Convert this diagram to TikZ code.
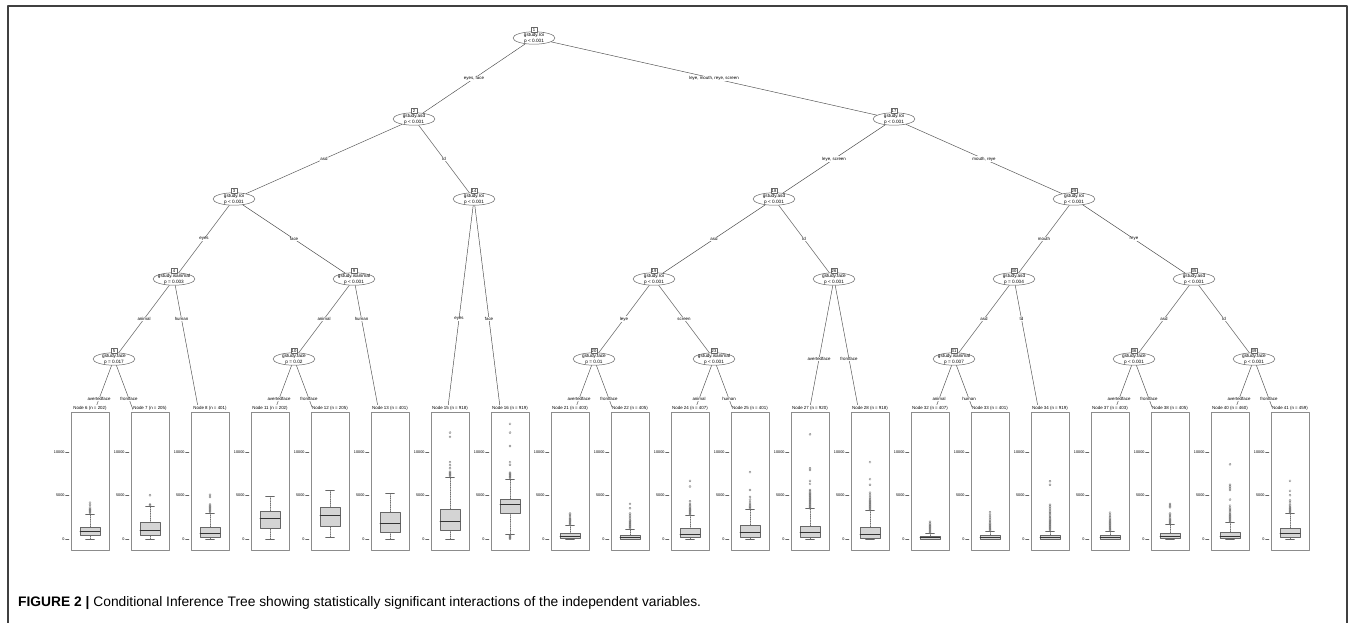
\documentclass[tikz,border=0pt]{standalone}
\usepackage{fontspec}
\setmainfont{Liberation Sans}
\usetikzlibrary{shapes.geometric}
\usetikzlibrary{positioning}

\tikzset{
  inner/.style 2 args={ellipse, draw=black!60, fill=white, line width=0.5pt,
    minimum width=42, minimum height=12.4, inner sep=0, label={[itext]center:#1\\#2}},
  itext/.style={align=center, inner sep=0, font=\fontsize{4.7}{5.6}\selectfont},
  numbox/.style={draw=black!60, fill=white, line width=0.4pt, inner sep=0.5,
    minimum size=5.4, font=\fontsize{4.2}{4.2}\selectfont},
  edge/.style={draw=black!70, line width=0.45pt},
  elab/.style={fill=white, inner sep=0.6, font=\fontsize{4.4}{5}\selectfont},
  leafbox/.style={draw=black!45, fill=white, line width=0.6pt, minimum width=38,
    minimum height=138, inner sep=0},
  leaflab/.style={fill=white, inner sep=0.3, minimum height=7, font=\fontsize{4.4}{5}\selectfont},
  tick/.style={draw=black!60, line width=0.35pt},
  ticklab/.style={inner sep=0.8, font=\fontsize{3.8}{4}\selectfont},
  whisk/.style={draw=black!55, line width=0.35pt, dash pattern=on 1pt off 0.8pt},
  capline/.style={draw=black!60, line width=0.4pt},
  bxfill/.style={draw=black!60, fill=black!17, line width=0.4pt},
  median/.style={draw=black!80, line width=0.9pt},
  outl/.style={draw=black!55, line width=0.3pt},
  frame/.style={draw=black!75, line width=1.2pt},
  declare function={ybp(\q)=538.7-8.7*\q;}
}

% one terminal panel: name, x, title, low, q1, median, q3, high (values in 1000)
\newcommand{\leafpanel}[8]{%
  \node[leafbox] (#1) at (#2,481) {};
  \node[leaflab] (#1l) at (#2,408.5) {#3};
  \draw[tick] ({#2-21},{ybp(0)}) -- ({#2-24.5},{ybp(0)}) node[ticklab,left] (#1a) {0};
  \draw[tick] ({#2-21},{ybp(5)}) -- ({#2-24.5},{ybp(5)}) node[ticklab,left] (#1b) {5000};
  \draw[tick] ({#2-21},{ybp(10)}) -- ({#2-24.5},{ybp(10)}) node[ticklab,left] (#1c) {10000};
  \draw[whisk] (#2,{ybp(#4)}) -- (#2,{ybp(#5)});
  \draw[whisk] (#2,{ybp(#7)}) -- (#2,{ybp(#8)});
  \draw[capline] ({#2-4.5},{ybp(#4)}) -- ({#2+4.5},{ybp(#4)});
  \draw[capline] ({#2-4.5},{ybp(#8)}) -- ({#2+4.5},{ybp(#8)});
  \draw[bxfill] ({#2-10},{ybp(#5)}) rectangle ({#2+10},{ybp(#7)});
  \draw[median] ({#2-10},{ybp(#6)}) -- ({#2+10},{ybp(#6)});
}
\newcommand{\outliers}[2]{%
  \foreach \ov in {#2} \draw[outl] (#1,{ybp(\ov)}) circle[radius=1.1pt];
}

\begin{document}
\begin{tikzpicture}[line cap=round, line join=round, x=1pt, y=-1pt]
\useasboundingbox (0,0) rectangle (1357,623);
\fill[white] (0,0) rectangle (1357,623);
\draw[frame] (8,624) |- (1347,6) -- (1347,624);
\node[anchor=base west, inner sep=0, font=\fontsize{13.8}{15}\selectfont] (cap) at (18,606.5)
  {\textbf{FIGURE 2 |} Conditional Inference Tree showing statistically significant interactions of the independent variables.};

% inner nodes
\node[inner={gstudy.roi}{p < 0.001}] (n1) at (534,38) {};
\node[inner={gstudy.asd}{p < 0.001}] (n2) at (414,119) {};
\node[inner={gstudy.roi}{p < 0.001}] (n17) at (894,119) {};
\node[inner={gstudy.roi}{p < 0.001}] (n3) at (234,199) {};
\node[inner={gstudy.roi}{p < 0.001}] (n14) at (474,199) {};
\node[inner={gstudy.asd}{p < 0.001}] (n18) at (774,199) {};
\node[inner={gstudy.roi}{p < 0.001}] (n29) at (1074,199) {};
\node[inner={gstudy.isanimal}{p = 0.003}] (n4) at (174,279) {};
\node[inner={gstudy.isanimal}{p < 0.001}] (n9) at (354,279) {};
\node[inner={gstudy.roi}{p < 0.001}] (n19) at (654,279) {};
\node[inner={gstudy.face}{p < 0.001}] (n26) at (834,279) {};
\node[inner={gstudy.asd}{p = 0.004}] (n30) at (1014,279) {};
\node[inner={gstudy.asd}{p < 0.001}] (n35) at (1194,279) {};
\node[inner={gstudy.face}{p = 0.017}] (n5) at (114,359) {};
\node[inner={gstudy.face}{p = 0.02}] (n10) at (294,359) {};
\node[inner={gstudy.face}{p = 0.01}] (n20) at (594,359) {};
\node[inner={gstudy.isanimal}{p < 0.001}] (n23) at (714,359) {};
\node[inner={gstudy.isanimal}{p = 0.007}] (n31) at (954,359) {};
\node[inner={gstudy.face}{p < 0.001}] (n36) at (1134,359) {};
\node[inner={gstudy.face}{p < 0.001}] (n39) at (1254,359) {};

\node[numbox, above=-1.2pt of n1] (b1) {1};
\node[numbox, above=-1.2pt of n2] (b2) {2};
\node[numbox, above=-1.2pt of n17] (b17) {17};
\node[numbox, above=-1.2pt of n3] (b3) {3};
\node[numbox, above=-1.2pt of n14] (b14) {14};
\node[numbox, above=-1.2pt of n18] (b18) {18};
\node[numbox, above=-1.2pt of n29] (b29) {29};
\node[numbox, above=-1.2pt of n4] (b4) {4};
\node[numbox, above=-1.2pt of n9] (b9) {9};
\node[numbox, above=-1.2pt of n19] (b19) {19};
\node[numbox, above=-1.2pt of n26] (b26) {26};
\node[numbox, above=-1.2pt of n30] (b30) {30};
\node[numbox, above=-1.2pt of n35] (b35) {35};
\node[numbox, above=-1.2pt of n5] (b5) {5};
\node[numbox, above=-1.2pt of n10] (b10) {10};
\node[numbox, above=-1.2pt of n20] (b20) {20};
\node[numbox, above=-1.2pt of n23] (b23) {23};
\node[numbox, above=-1.2pt of n31] (b31) {31};
\node[numbox, above=-1.2pt of n36] (b36) {36};
\node[numbox, above=-1.2pt of n39] (b39) {39};

% terminal nodes
\coordinate (l6) at (84,439);
\coordinate (l7) at (144,439);
\coordinate (l8) at (204,439);
\coordinate (l11) at (264,439);
\coordinate (l12) at (324,439);
\coordinate (l13) at (384,439);
\coordinate (l15) at (444,439);
\coordinate (l16) at (504,439);
\coordinate (l21) at (564,439);
\coordinate (l22) at (624,439);
\coordinate (l24) at (684,439);
\coordinate (l25) at (744,439);
\coordinate (l27) at (804,439);
\coordinate (l28) at (864,439);
\coordinate (l32) at (924,439);
\coordinate (l33) at (984,439);
\coordinate (l34) at (1044,439);
\coordinate (l37) at (1104,439);
\coordinate (l38) at (1164,439);
\coordinate (l40) at (1224,439);
\coordinate (l41) at (1284,439);

% edges
\draw[edge] (n1) -- (n2);
\draw[edge] (n1) -- (n17);
\draw[edge] (n2) -- (n3);
\draw[edge] (n2) -- (n14);
\draw[edge] (n17) -- (n18);
\draw[edge] (n17) -- (n29);
\draw[edge] (n3) -- (n4);
\draw[edge] (n3) -- (n9);
\draw[edge] (n14) -- (l15);
\draw[edge] (n14) -- (l16);
\draw[edge] (n18) -- (n19);
\draw[edge] (n18) -- (n26);
\draw[edge] (n29) -- (n30);
\draw[edge] (n29) -- (n35);
\draw[edge] (n4) -- (n5);
\draw[edge] (n4) -- (l8);
\draw[edge] (n9) -- (n10);
\draw[edge] (n9) -- (l13);
\draw[edge] (n19) -- (n20);
\draw[edge] (n19) -- (n23);
\draw[edge] (n26) -- (l27);
\draw[edge] (n26) -- (l28);
\draw[edge] (n30) -- (n31);
\draw[edge] (n30) -- (l34);
\draw[edge] (n35) -- (n36);
\draw[edge] (n35) -- (n39);
\draw[edge] (n5) -- (l6);
\draw[edge] (n5) -- (l7);
\draw[edge] (n10) -- (l11);
\draw[edge] (n10) -- (l12);
\draw[edge] (n20) -- (l21);
\draw[edge] (n20) -- (l22);
\draw[edge] (n23) -- (l24);
\draw[edge] (n23) -- (l25);
\draw[edge] (n31) -- (l32);
\draw[edge] (n31) -- (l33);
\draw[edge] (n36) -- (l37);
\draw[edge] (n36) -- (l38);
\draw[edge] (n39) -- (l40);
\draw[edge] (n39) -- (l41);

% split labels
\node[elab] (e2) at (474,78.5) {eyes, face};
\node[elab] (e17) at (714,78.5) {leye, mouth, reye, screen};
\node[elab] (e3) at (324,159) {asd};
\node[elab] (e14) at (444,159) {td};
\node[elab] (e18) at (834,159) {leye, screen};
\node[elab] (e29) at (984,159) {mouth, reye};
\node[elab] (e4) at (204,239) {eyes};
\node[elab] (e9) at (294,239) {face};
\node[elab] (e15) at (459,319) {eyes};
\node[elab] (e16) at (489,319) {face};
\node[elab] (e19) at (714,239) {asd};
\node[elab] (e26) at (804,239) {td};
\node[elab] (e30) at (1044,239) {mouth};
\node[elab] (e35) at (1134,239) {reye};
\node[elab] (e5) at (144,319) {animal};
\node[elab] (e8) at (181.5,319) {human};
\node[elab] (e10) at (324,319) {animal};
\node[elab] (e13) at (361.5,319) {human};
\node[elab] (e20) at (624,319) {leye};
\node[elab] (e23) at (684,319) {screen};
\node[elab] (e27) at (819,359) {avertedface};
\node[elab] (e28) at (849,359) {frontface};
\node[elab] (e31) at (984,319) {asd};
\node[elab] (e34) at (1021.5,319) {td};
\node[elab] (e36) at (1164,319) {asd};
\node[elab] (e39) at (1224,319) {td};
\node[elab] (e6) at (99,399) {avertedface};
\node[elab] (e7) at (129,399) {frontface};
\node[elab] (e11) at (279,399) {avertedface};
\node[elab] (e12) at (309,399) {frontface};
\node[elab] (e21) at (579,399) {avertedface};
\node[elab] (e22) at (609,399) {frontface};
\node[elab] (e24) at (699,399) {animal};
\node[elab] (e25) at (729,399) {human};
\node[elab] (e32) at (939,399) {animal};
\node[elab] (e33) at (969,399) {human};
\node[elab] (e37) at (1119,399) {avertedface};
\node[elab] (e38) at (1149,399) {frontface};
\node[elab] (e40) at (1239,399) {avertedface};
\node[elab] (e41) at (1269,399) {frontface};

% boxplot panels
\leafpanel{p6}{90}{Node 6 (n = 202)}{0}{0.39}{0.88}{1.34}{2.8}
\outliers{90}{2.95,3.05,3.15,3.25,3.35,3.45,3.6,3.9,4.15}
\leafpanel{p7}{150}{Node 7 (n = 205)}{0}{0.39}{1.0}{1.84}{3.72}
\outliers{150}{3.85,3.95,5.0}
\leafpanel{p8}{210}{Node 8 (n = 401)}{0}{0.2}{0.58}{1.34}{2.92}
\outliers{210}{3.1,3.2,3.3,3.4,3.5,3.6,3.7,3.8,3.95,4.8,5.05}
\leafpanel{p11}{270}{Node 11 (n = 202)}{0}{1.19}{2.34}{3.15}{4.87}
\leafpanel{p12}{330}{Node 12 (n = 205)}{0.2}{1.46}{2.69}{3.6}{5.56}
\leafpanel{p13}{390}{Node 13 (n = 401)}{0}{0.77}{1.77}{3.1}{5.2}
\leafpanel{p15}{450}{Node 15 (n = 918)}{0}{0.96}{2.03}{3.38}{7.1}
\outliers{450}{7.2,7.3,7.4,7.5,7.6,7.7,8.1,8.45,8.8,11.7,12.2}
\leafpanel{p16}{510}{Node 16 (n = 919)}{0.5}{2.92}{3.95}{4.56}{6.83}
\outliers{510}{0,0.08,0.16,0.24,0.32,0.4,7.0,7.1,7.2,7.3,7.4,7.5,7.6,8.5,8.8,10.65,12.2,13.2}
\leafpanel{p21}{570}{Node 21 (n = 403)}{0}{0.02}{0.23}{0.58}{1.54}
\outliers{570}{1.6,1.7,1.8,1.9,2.0,2.1,2.2,2.3,2.4,2.6,2.75,2.9}
\leafpanel{p22}{630}{Node 22 (n = 405)}{0}{0}{0.1}{0.46}{1.12}
\outliers{630}{1.2,1.3,1.4,1.5,1.6,1.7,1.8,1.9,2.0,2.1,2.3,2.5,2.7,2.9,3.5,4.0}
\leafpanel{p24}{690}{Node 24 (n = 407)}{0}{0.12}{0.46}{1.15}{2.65}
\outliers{690}{2.75,2.85,2.95,3.05,3.15,3.25,3.35,3.45,3.55,3.7,3.85,4.0,4.3,6.0,6.65}
\leafpanel{p25}{750}{Node 25 (n = 401)}{0}{0.23}{0.69}{1.54}{3.41}
\outliers{750}{3.5,3.6,3.7,3.85,4.0,4.2,4.5,4.8,5.6,7.65}
\leafpanel{p27}{810}{Node 27 (n = 920)}{0}{0.16}{0.73}{1.46}{3.45}
\outliers{810}{3.5,3.6,3.7,3.8,3.9,4.0,4.1,4.2,4.3,4.4,4.5,4.6,4.7,4.8,4.9,5.0,5.1,5.2,5.3,5.45,5.6,6.3,6.65,7.9,8.1,12.0}
\leafpanel{p28}{870}{Node 28 (n = 918)}{0}{0.08}{0.5}{1.31}{3.26}
\outliers{870}{3.3,3.4,3.5,3.6,3.7,3.8,3.9,4.0,4.1,4.2,4.3,4.4,4.55,4.7,4.9,5.1,5.3,6.2,6.85,8.8}
\leafpanel{p32}{930}{Node 32 (n = 407)}{0}{0}{0.1}{0.31}{0.62}
\outliers{930}{0.7,0.8,0.9,1.0,1.1,1.2,1.3,1.4,1.5,1.6,1.75,1.95}
\leafpanel{p33}{990}{Node 33 (n = 401)}{0}{0}{0.15}{0.39}{0.85}
\outliers{990}{0.95,1.05,1.15,1.25,1.35,1.45,1.55,1.65,1.75,1.9,2.05,2.2,2.4,2.6,2.8,3.05}
\leafpanel{p34}{1050}{Node 34 (n = 919)}{0}{0}{0.12}{0.39}{0.92}
\outliers{1050}{1.0,1.1,1.2,1.3,1.4,1.5,1.6,1.7,1.8,1.9,2.0,2.1,2.2,2.35,2.5,2.65,2.8,2.95,3.1,3.3,3.5,3.7,3.9,6.2,6.6}
\leafpanel{p37}{1110}{Node 37 (n = 403)}{0}{0}{0.1}{0.39}{0.89}
\outliers{1110}{0.95,1.05,1.15,1.25,1.35,1.45,1.55,1.65,1.75,1.85,1.95,2.05,2.15,2.3,2.45,2.6,2.8,3.0}
\leafpanel{p38}{1170}{Node 38 (n = 405)}{0}{0.06}{0.27}{0.62}{1.65}
\outliers{1170}{1.7,1.8,1.9,2.0,2.1,2.2,2.3,2.45,2.6,2.75,2.9,3.6,3.7,3.85,4.0}
\leafpanel{p40}{1230}{Node 40 (n = 460)}{0}{0.02}{0.23}{0.77}{1.88}
\outliers{1230}{1.95,2.05,2.15,2.25,2.35,2.45,2.55,2.65,2.75,2.85,3.0,3.15,3.3,3.45,3.6,3.8,4.5,5.6,5.8,6.0,6.2,8.55}
\leafpanel{p41}{1290}{Node 41 (n = 459)}{0}{0.16}{0.62}{1.23}{2.88}
\outliers{1290}{2.95,3.05,3.15,3.25,3.35,3.45,3.55,3.65,3.8,3.95,4.2,4.4,5.0,5.5,6.65}
\end{tikzpicture}
\end{document}
